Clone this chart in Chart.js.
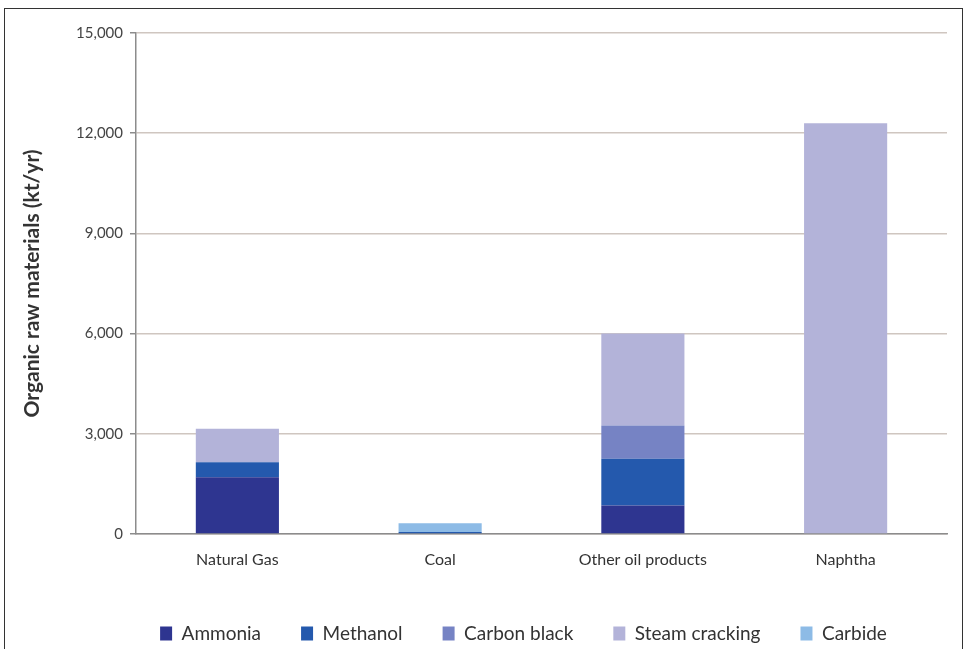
<!DOCTYPE html>
<html>
<head>
<meta charset="utf-8">
<script src="https://cdn.jsdelivr.net/npm/chart.js@4/dist/chart.umd.min.js"></script>
<style>
  html, body { margin: 0; padding: 0; background: #fff; }
  #wrap { position: relative; width: 967px; height: 649px; overflow: hidden; }
  #frame {
    position: absolute; left: 4px; top: 8px; width: 959px; height: 660px;
    border: 1.5px solid #333; box-sizing: border-box;
  }
  canvas { position: absolute; left: 0; top: 0; }
</style>
</head>
<body>
<div id="wrap">
  <div id="frame"></div>
  <canvas id="chart" width="967" height="649"></canvas>
</div>
<script>
// Feedstock categories on the x axis
const categories = ['Natural Gas', 'Coal', 'Other oil products', 'Naphtha'];

// Organic raw material use per process (kt/yr), one value per category
const ammonia       = [1700,   0,  850,     0];
const methanol      = [ 450,  60, 1400,     0];
const carbonBlack   = [   0,   0, 1000,     0];
const steamCracking = [1000,   0, 2750, 12300];
const carbide       = [   0, 260,    0,     0];

// Y axis ticks
const yTicks = [0, 3000, 6000, 9000, 12000, 15000];

const seriesNames = ['Ammonia', 'Methanol', 'Carbon black', 'Steam cracking', 'Carbide'];
const seriesData = [ammonia, methanol, carbonBlack, steamCracking, carbide];
const seriesColors = ['#2e3590', '#2459ad', '#7683c4', '#b3b3d9', '#8dbbe6'];

const FONT = 'Lato, "Open Sans", "Liberation Sans", sans-serif';

// Keep the legend row centred under the plot, a little left of the plot centre
const legendShift = {
  id: 'legendShift',
  afterLayout(chart) {
    if (chart.legend) {
      chart.legend.left = 100;
      chart.legend.right = 947;
    }
  }
};

new Chart(document.getElementById('chart'), {
  type: 'bar',
  data: {
    labels: categories,
    datasets: seriesNames.map((name, i) => ({
      label: name,
      data: seriesData[i],
      backgroundColor: seriesColors[i],
      borderWidth: 0,
      categoryPercentage: 0.82,
      barPercentage: 0.5
    }))
  },
  plugins: [legendShift],
  options: {
    responsive: false,
    animation: false,
    layout: { padding: { left: 20, right: 20, top: 33, bottom: -4 } },
    plugins: {
      tooltip: { enabled: false },
      legend: {
        position: 'bottom',
        labels: {
          boxWidth: 12,
          boxHeight: 14,
          padding: 40,
          color: '#333',
          font: { family: FONT, size: 19 }
        }
      }
    },
    scales: {
      x: {
        stacked: true,
        grid: { display: false },
        border: { display: true, color: '#8c8c8c', width: 1.5 },
        ticks: { color: '#333', font: { family: FONT, size: 16 }, padding: 8 },
        afterFit: (scale) => { scale.height = 50; }
      },
      y: {
        stacked: true,
        min: 0,
        max: 15000,
        afterBuildTicks: (scale) => { scale.ticks = yTicks.map(v => ({ value: v })); },
        grid: {
          color: '#cfc6c0',
          lineWidth: 1.5,
          tickLength: 6,
          tickColor: '#8c8c8c'
        },
        border: { display: true, color: '#8c8c8c', width: 1.5 },
        ticks: {
          color: '#444',
          font: { family: FONT, size: 15 },
          padding: 7,
          callback: (v) => v.toLocaleString('en-US')
        },
        title: {
          display: true,
          text: 'Organic raw materials (kt/yr)',
          color: '#333',
          font: { family: FONT, size: 21, weight: 'bold' },
          padding: { top: 0, bottom: 0 }
        },
        afterFit: (scale) => { scale.width = 116; }
      }
    }
  }
});
</script>
</body>
</html>
